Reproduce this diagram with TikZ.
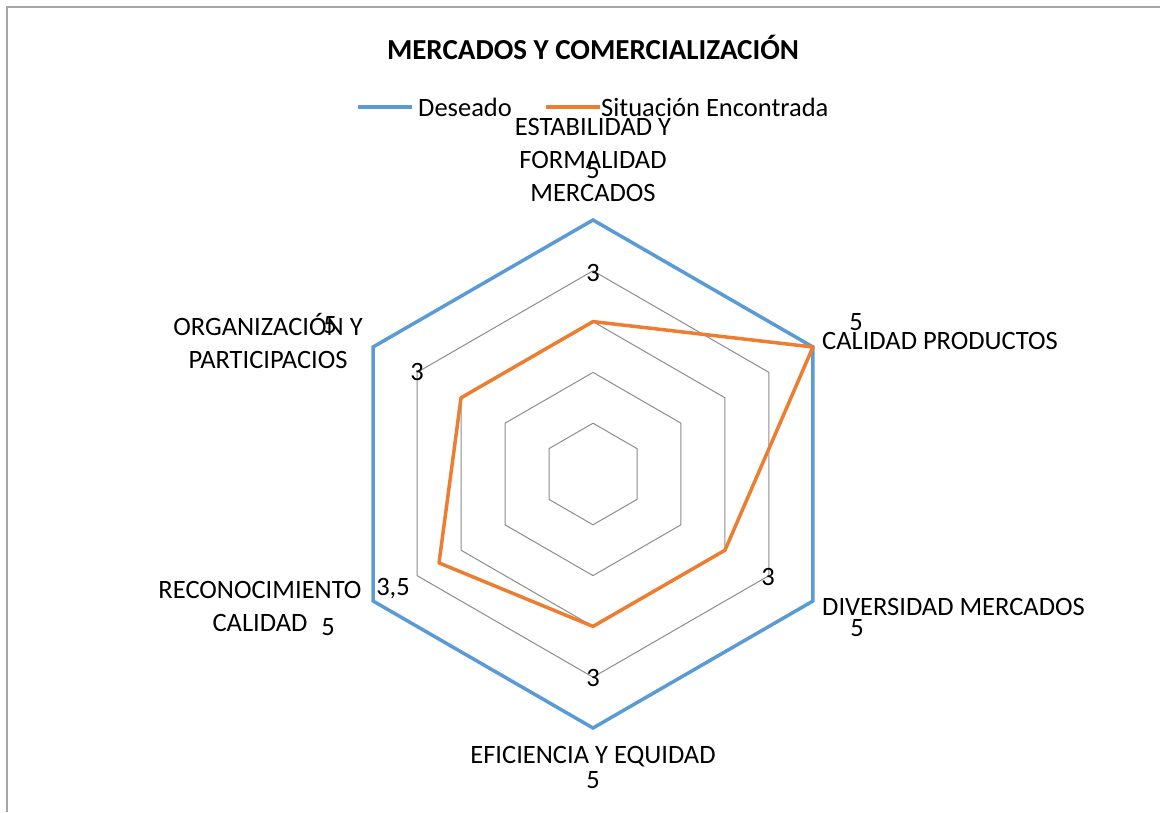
\documentclass[tikz,border=0pt]{standalone}
\usepackage{fontspec}
\setmainfont{Carlito}
\usetikzlibrary{calc}
\definecolor{serA}{HTML}{5B9BD5}
\definecolor{serB}{HTML}{ED7D31}
\definecolor{gridc}{HTML}{8C8C8C}
\definecolor{framec}{HTML}{A6A6A6}
\begin{document}
\begin{tikzpicture}[x=1pt,y=-1pt,
  lbl/.style={font=\fontsize{26.5}{33}\selectfont, inner sep=0pt, align=center},
  val/.style={font=\fontsize{26.5}{30}\selectfont, inner sep=0pt},
  gridline/.style={draw=gridc, line width=1pt},
  desired/.style={draw=serA, line width=3.5pt, line join=miter},
  found/.style={draw=serB, line width=3.5pt, line join=round}]
\useasboundingbox (0,0) rectangle (1160,812);
\draw[framec, line width=1.5pt] (7,812) -- (7,7) -- (1160,7);
\coordinate (c) at (593,474);
% grid hexagons (y axis points down, so angles are mirrored)
\foreach \r in {1,2,3,4}{
  \draw[gridline] ($(c)+(-90:50.8*\r)$) \foreach \a in {-30,30,90,150,-150}{ -- ($(c)+(\a:50.8*\r)$)} -- cycle;
}
% vertices
\coordinate (d1) at ($(c)+(-90:254)$);
\coordinate (d2) at ($(c)+(-30:254)$);
\coordinate (d3) at ($(c)+(30:254)$);
\coordinate (d4) at ($(c)+(90:254)$);
\coordinate (d5) at ($(c)+(150:254)$);
\coordinate (d6) at ($(c)+(-150:254)$);
\coordinate (s1) at ($(c)+(-90:152.4)$);
\coordinate (s2) at ($(c)+(-30:254)$);
\coordinate (s3) at ($(c)+(30:152.4)$);
\coordinate (s4) at ($(c)+(90:152.4)$);
\coordinate (s5) at ($(c)+(150:177.8)$);
\coordinate (s6) at ($(c)+(-150:152.4)$);
\draw[desired] (d1) -- (d2) -- (d3) -- (d4) -- (d5) -- (d6) -- cycle;
\draw[found] (s1) -- (s2) -- (s3) -- (s4) -- (s5) -- (s6) -- cycle;
% title and legend
\node[font=\fontsize{29}{32}\selectfont\bfseries, inner sep=0pt] (title) at (593,47) {MERCADOS Y COMERCIALIZACIÓN};
\coordinate (la) at (358,107); \coordinate (lb) at (412,107);
\draw[desired] (la) -- (lb);
\node[val, anchor=west] (lega) at (418,107) {Deseado};
\coordinate (lc) at (546,107); \coordinate (ld) at (600,107);
\draw[found] (lc) -- (ld);
\node[val, anchor=west] (legb) at (601,107) {Situación Encontrada};
% category labels
\node[lbl] (cat1) at (593,160) {ESTABILIDAD Y\\FORMALIDAD\\MERCADOS};
\node[lbl, anchor=west] (cat2) at (822,341) {CALIDAD PRODUCTOS};
\node[lbl, anchor=west] (cat3) at (822,607) {DIVERSIDAD MERCADOS};
\node[lbl] (cat4) at (593,757) {EFICIENCIA Y EQUIDAD};
\node[lbl] (cat5) at (260,606) {RECONOCIMIENTO\\CALIDAD};
\node[lbl] (cat6) at (268,341) {ORGANIZACIÓN Y\\PARTICIPACIOS};
% value labels
\node[val] (v1a) at (593,170) {5};
\node[val] (v1b) at (593,273) {3};
\node[val] (v2a) at (856,322) {5};
\node[val] (v3a) at (768,577) {3};
\node[val] (v3b) at (857,628) {5};
\node[val] (v4a) at (593,678) {3};
\node[val] (v4b) at (593,780) {5};
\node[val] (v5a) at (393,589) {3,5};
\node[val] (v5b) at (328,627) {5};
\node[val] (v6a) at (330,325) {5};
\node[val] (v6b) at (417,372) {3};
\end{tikzpicture}
\end{document}
